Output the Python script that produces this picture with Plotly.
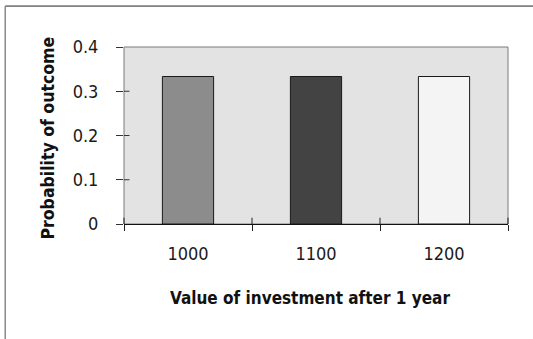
import plotly.graph_objects as go

# Possible values of the investment after one year and their probabilities
values = ["1000", "1100", "1200"]
probabilities = [1/3, 1/3, 1/3]
bar_colors = ["#8c8c8c", "#434343", "#f4f4f4"]
y_ticks = [0, 0.1, 0.2, 0.3, 0.4]
y_tick_labels = ["0", "0.1", "0.2", "0.3", "0.4"]

W, H = 533, 339
ML, MR, MT, MB = 123.5, 24.7, 47, 114.7
PW, PH = W - ML - MR, H - MT - MB

def px_x(p):
    return (p - ML) / PW

def px_y(p):
    return (H - MB - p) / PH

narrow = "Liberation Sans Narrow, Arial Narrow, DejaVu Sans Condensed, sans-serif"

fig = go.Figure(
    go.Bar(
        x=values,
        y=probabilities,
        marker=dict(color=bar_colors, line=dict(color="#1a1a1a", width=1)),
        width=0.4,
        hoverinfo="x+y",
    )
)

shapes = [
    # plot area border
    dict(type="rect", xref="paper", yref="paper", x0=0, x1=1, y0=0, y1=1,
         line=dict(color="#7a7a7a", width=1), layer="below"),
    # outer frame (top and left edges)
    dict(type="line", xref="paper", yref="paper", x0=px_x(4.5), x1=px_x(W + 2),
         y0=px_y(6), y1=px_y(6), line=dict(color="#222222", width=1)),
    dict(type="line", xref="paper", yref="paper", x0=px_x(4.5), x1=px_x(4.5),
         y0=px_y(6), y1=px_y(H + 2), line=dict(color="#8a8a8a", width=1.5)),
]
# inner halves of the crossing tick marks
for t in y_ticks[1:4]:
    shapes.append(dict(type="line", xref="paper", yref="y", x0=0, x1=px_x(129),
                       y0=t, y1=t, line=dict(color="#333333", width=1)))
for b in [0, 1, 2, 3]:
    xb = b / 3
    shapes.append(dict(type="line", xref="paper", yref="paper", x0=xb, x1=xb,
                       y0=0, y1=px_y(218), line=dict(color="#222222", width=1)))

fig.update_layout(
    width=W, height=H,
    margin=dict(l=ML, r=MR, t=MT, b=MB, pad=0),
    paper_bgcolor="white",
    plot_bgcolor="#e3e3e3",
    showlegend=False,
    shapes=shapes,
    bargap=0.6,
    xaxis=dict(
        type="category",
        showgrid=False,
        showline=True, linecolor="#111111", linewidth=1,
        ticks="outside", ticklen=6, tickcolor="#222222", tickson="boundaries",
        tickfont=dict(family=narrow, size=18, color="#1a1a1a"),
        ticklabelstandoff=13,
        zeroline=False,
    ),
    yaxis=dict(
        range=[0, 0.4],
        tickvals=y_ticks, ticktext=y_tick_labels,
        showgrid=False, zeroline=False, showline=False,
        ticks="outside", ticklen=7, tickcolor="#333333",
        tickfont=dict(family=narrow, size=18, color="#1a1a1a"),
        ticklabelstandoff=14,
    ),
    annotations=[
        dict(text="<b>Value of investment after 1 year</b>", xref="paper", yref="paper",
             x=px_x(310), y=px_y(298), xanchor="center", yanchor="middle",
             showarrow=False, font=dict(family=narrow, size=17, color="#111111")),
        dict(text="<b>Probability of outcome</b>", xref="paper", yref="paper",
             x=px_x(47), y=px_y(138), xanchor="center", yanchor="middle", textangle=-90,
             showarrow=False, font=dict(family=narrow, size=17.5, color="#111111")),
    ],
)

fig.write_html("out.html")
